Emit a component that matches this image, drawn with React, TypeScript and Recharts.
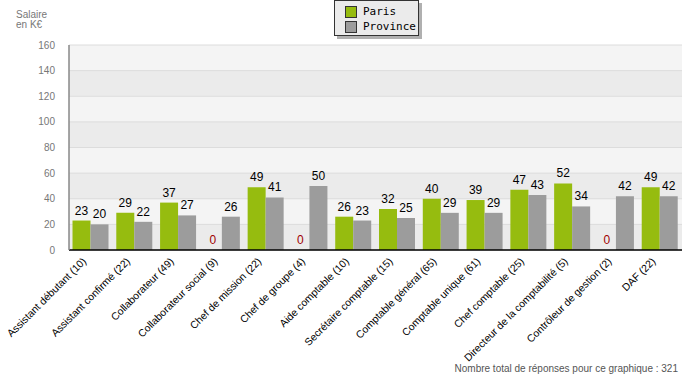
import { BarChart, Bar, XAxis, YAxis, CartesianGrid, LabelList, Legend } from "recharts";

const categories = [
  "Assistant débutant (10)",
  "Assistant confirmé (22)",
  "Collaborateur (49)",
  "Collaborateur social (9)",
  "Chef de mission (22)",
  "Chef de groupe (4)",
  "Aide comptable (10)",
  "Secrétaire comptable (15)",
  "Comptable général (65)",
  "Comptable unique (61)",
  "Chef comptable (25)",
  "Directeur de la comptabilité (5)",
  "Contrôleur de gestion (2)",
  "DAF (22)",
];
const paris = [23, 29, 37, 0, 49, 0, 26, 32, 40, 39, 47, 52, 0, 49];
const province = [20, 22, 27, 26, 41, 50, 23, 25, 29, 29, 43, 34, 42, 42];
const seriesNames = ["Paris", "Province"];
const seriesColors = ["#96bc0f", "#9c9c9c"];
const yTicks = [0, 20, 40, 60, 80, 100, 120, 140, 160];
const yMinorTicks = [0, 10, 20, 30, 40, 50, 60, 70, 80, 90, 100, 110, 120, 130, 140, 150, 160];
const boundaryTicks = [1, 2, 3, 4, 5, 6, 7, 8, 9, 10, 11, 12, 13];
const footer = "Nombre total de réponses pour ce graphique : 321";

const data = categories.map((c, i) => ({ name: c, paris: paris[i], province: province[i] }));

const FONT = "'Liberation Sans', Arial, sans-serif";

function CatTick(props: any) {
  const { x, y, payload } = props;
  const ax = x - 4;
  const ay = y + 4;
  return (
    <text
      x={ax}
      y={ay}
      textAnchor="end"
      transform={`rotate(-45, ${ax}, ${ay})`}
      fontSize={10.4}
      fontFamily={FONT}
      fill="#000"
    >
      {payload.value}
    </text>
  );
}

function ValueLabel(props: any) {
  const { x, y, width, value } = props;
  if (!value) return null;
  return (
    <text x={x + width / 2} y={y - 6} textAnchor="middle" fontSize={12} fontFamily={FONT} fill="#000">
      {value}
    </text>
  );
}

// Province label also marks a missing Paris value with a red 0 in the empty slot to its left
function ProvinceLabel(props: any) {
  const { x, y, width, height, value, index } = props;
  const base = y + height;
  return (
    <g>
      <text x={x + width / 2} y={y - 6} textAnchor="middle" fontSize={12} fontFamily={FONT} fill="#000">
        {value}
      </text>
      {paris[index] === 0 && (
        <text x={x - width / 2} y={base - 6} textAnchor="middle" fontSize={12} fontFamily={FONT} fill="#a00000">
          0
        </text>
      )}
    </g>
  );
}

function LegendBox() {
  return (
    <div
      style={{
        width: 85,
        height: 36,
        background: "#ebebeb",
        border: "1px solid #333",
        boxShadow: "3px 3px 0 #b0b0b0",
        fontFamily: "'DejaVu Sans Mono', monospace",
        fontSize: 11,
        color: "#000",
        boxSizing: "border-box",
        paddingTop: 3,
      }}
    >
      {seriesNames.map((n, i) => (
        <div key={n} style={{ display: "flex", alignItems: "center", height: 15, paddingLeft: 10 }}>
          <span
            style={{
              display: "inline-block",
              width: 12,
              height: 12,
              background: seriesColors[i],
              border: "1px solid #333",
              marginRight: 6,
              boxSizing: "border-box",
            }}
          />
          {n}
        </div>
      ))}
    </div>
  );
}

export default function App() {
  return (
    <div style={{ position: "absolute", left: 0, top: 0, width: 700, height: 380, fontFamily: FONT }}>
      <div
        style={{
          position: "absolute",
          left: 16,
          top: 10,
          fontSize: 10,
          lineHeight: "10px",
          color: "#777",
        }}
      >
        Salaire
        <br />
        en K€
      </div>
      <BarChart
        width={700}
        height={380}
        data={data}
        margin={{ top: 45, right: 18, left: 0, bottom: 0 }}
        barCategoryGap="8%"
        barGap={0}
      >
        <CartesianGrid
          vertical={false}
          stroke="#dcdcdc"
          fill="none"
          horizontalFill={["#f4f4f4", "#ebebeb"]}
        />
        <XAxis
          dataKey="name"
          interval={0}
          height={130}
          axisLine={{ stroke: "#000" }}
          tickLine={false}
          tick={<CatTick />}
        />
        <XAxis
          xAxisId="b"
          type="number"
          domain={[0, 14]}
          ticks={boundaryTicks}
          mirror
          tick={false}
          tickSize={4}
          tickLine={{ stroke: "#000" }}
          axisLine={{ stroke: "#000" }}
        />
        <YAxis
          width={69}
          domain={[0, 160]}
          ticks={yTicks}
          tickLine={false}
          axisLine={{ stroke: "#888" }}
          tick={{ fontSize: 10, fill: "#777", fontFamily: FONT }}
          tickMargin={8}
        />
        <YAxis
          yAxisId="m"
          domain={[0, 160]}
          ticks={yMinorTicks}
          mirror
          tick={false}
          tickSize={4}
          tickLine={{ stroke: "#888" }}
          axisLine={{ stroke: "#888" }}
        />
        <Legend
          layout="vertical"
          align="center"
          verticalAlign="middle"
          wrapperStyle={{ top: 0, left: 334, width: 90, height: 40 }}
          content={() => <LegendBox />}
        />
        <Bar dataKey="paris" name={seriesNames[0]} fill={seriesColors[0]} isAnimationActive={false}>
          <LabelList dataKey="paris" content={<ValueLabel />} />
        </Bar>
        <Bar dataKey="province" name={seriesNames[1]} fill={seriesColors[1]} isAnimationActive={false}>
          <LabelList dataKey="province" content={<ProvinceLabel />} />
        </Bar>
      </BarChart>
      <div
        style={{
          position: "absolute",
          right: 22,
          top: 363,
          fontSize: 10,
          color: "#555",
          whiteSpace: "nowrap",
        }}
      >
        {footer}
      </div>
    </div>
  );
}
